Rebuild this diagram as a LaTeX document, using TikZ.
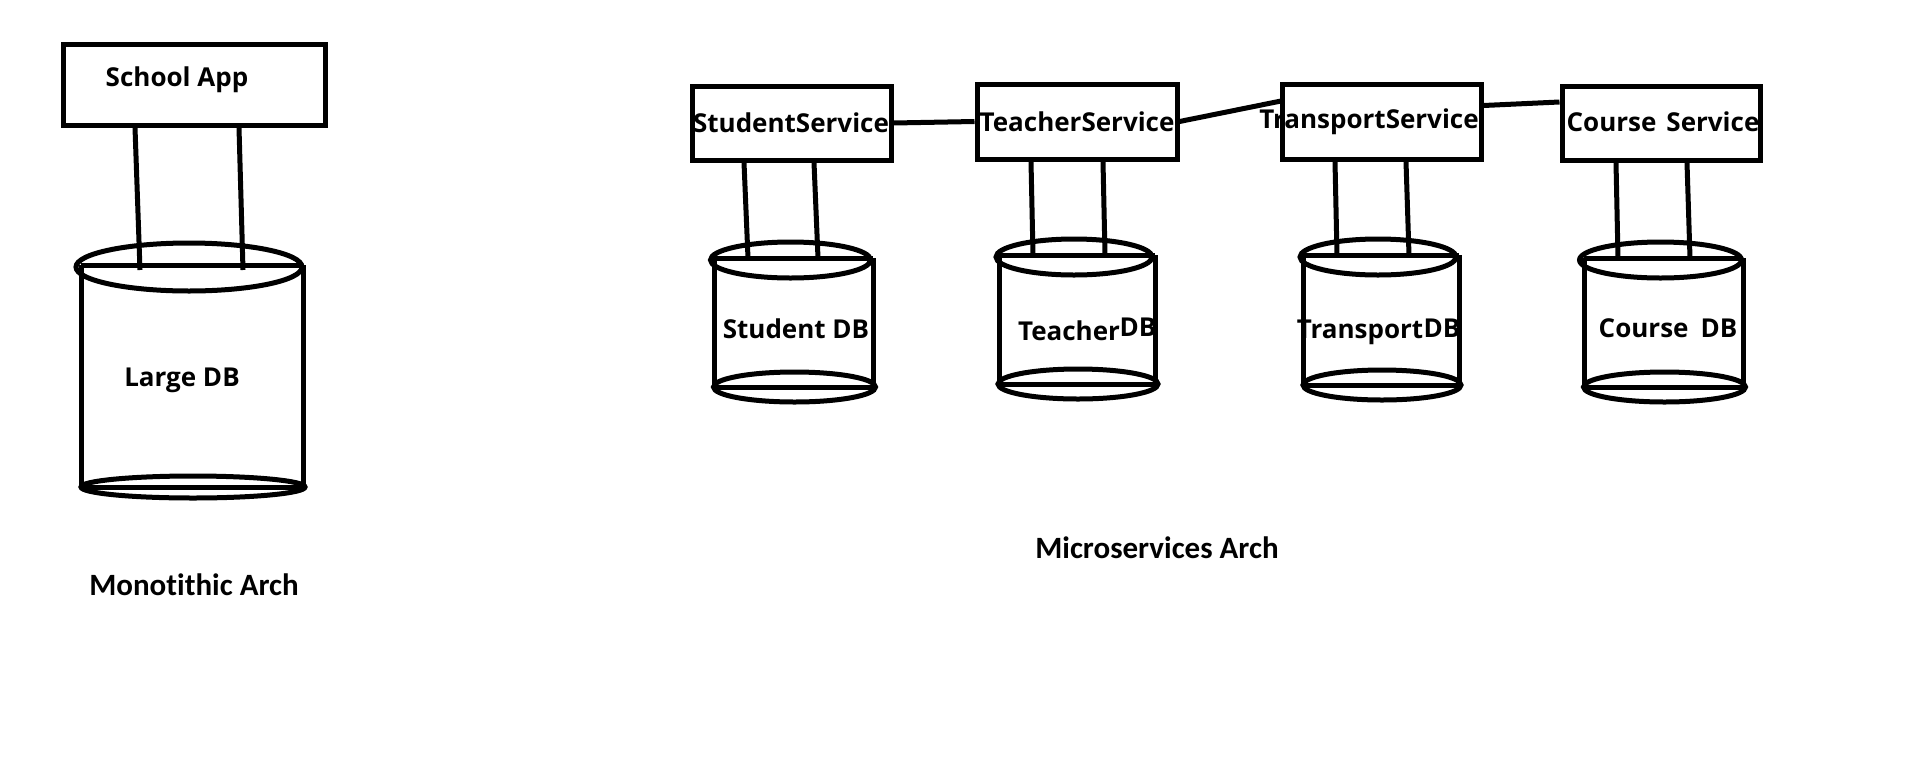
\documentclass[tikz,border=0pt]{standalone}
\usepackage{fontspec}
\setmainfont{Open Sans}
\newfontfamily\labelfont[Ligatures={NoCommon,NoDiscretionary}]{Carlito}
\usetikzlibrary{calc}
\newcommand\drawcyl[5]{%
  \draw (#1.north west) -- (#1.south west) (#1.north east) -- (#1.south east)
        (#1.north west) -- (#1.north east) (#1.south west) -- (#1.south east);
  \draw ($(#1.north)+(-3,2)$) ellipse [x radius=#2pt, y radius=#3pt];
  \draw ($(#1.south)+(1,0)$) ellipse [x radius=#4pt, y radius=#5pt];
}
\begin{document}
\begin{tikzpicture}[x=1pt,y=-1pt,line width=5pt,
  box/.style={draw, rectangle, inner sep=0pt},
  svc/.style={font=\bfseries\fontsize{26}{30}\selectfont, inner sep=0pt},
  lbl/.style={font=\labelfont\bfseries\fontsize{31}{36}\selectfont, inner sep=0pt},
  dbbody/.style={rectangle, inner sep=0pt, outer sep=0pt}]
\fill[white] (0,0) rectangle (1906,761);
\useasboundingbox (0,0) rectangle (1906,761);

% Monolithic
\node[box, minimum width=262pt, minimum height=81pt] (app) at (194,84.5) {};
\node[svc] (apptxt) at (177,80) {School App};
\node[dbbody, minimum width=222pt, minimum height=222pt] (ldb) at (192,376) {};
\drawcyl{ldb}{113}{24}{112}{11}
\node[svc] (ldbtxt) at (182,380) {Large DB};
\draw ($(app.south)+(-59,0)$) -- ($(ldb.north)+(-52,5)$);
\draw ($(app.south)+(45,0)$) -- ($(ldb.north)+(51,5)$);
\node[lbl] (mono) at (194,585) {Monotithic Arch};

% Services
\node[box, minimum width=199pt, minimum height=74pt] (stu) at (791.5,123) {};
\node[box, minimum width=200pt, minimum height=75pt] (tea) at (1077,121.5) {};
\node[box, minimum width=199pt, minimum height=75pt] (tra) at (1381.5,121.5) {};
\node[box, minimum width=198pt, minimum height=74pt] (cou) at (1661,123) {};
\node[svc] (stutxt) at (791,123) {StudentService};
\node[svc] (teatxt) at (1077,122) {TeacherService};
\node[svc] (tratxt) at (1369,122) {TransportService};
\node[svc] (coutxt) at (1663,122) {Course\hspace{10pt}Service};

\draw (stu.east) -- (tea.west);
\draw (tea.east) -- ($(tra.north west)+(4,19)$);
\draw ($(tra.east)+(0,-16)$) -- ($(cou.west)+(0,-21)$);

% Databases
\node[dbbody, minimum width=159pt, minimum height=129pt] (sdb) at (793.5,322.5) {};
\node[dbbody, minimum width=156pt, minimum height=129pt] (tdb) at (1077,319.5) {};
\node[dbbody, minimum width=156pt, minimum height=130pt] (trdb) at (1381,320) {};
\node[dbbody, minimum width=159pt, minimum height=129pt] (cdb) at (1663.5,322.5) {};
\drawcyl{sdb}{80}{18}{81}{15}
\drawcyl{tdb}{78}{18}{80}{15}
\drawcyl{trdb}{78}{18}{79}{15}
\drawcyl{cdb}{81}{18}{81}{15}

\draw ($(stu.south)+(-47.5,0)$) -- ($(sdb.north)+(-45.5,0)$);
\draw ($(stu.south)+(22.5,0)$) -- ($(sdb.north)+(24.5,0)$);
\draw ($(tea.south)+(-46,0)$) -- ($(tdb.north)+(-44,0)$);
\draw ($(tea.south)+(26,0)$) -- ($(tdb.north)+(28,0)$);
\draw ($(tra.south)+(-46.5,0)$) -- ($(trdb.north)+(-44,0)$);
\draw ($(tra.south)+(24.5,0)$) -- ($(trdb.north)+(28,0)$);
\draw ($(cou.south)+(-45,0)$) -- ($(cdb.north)+(-45.5,0)$);
\draw ($(cou.south)+(26,0)$) -- ($(cdb.north)+(26.5,0)$);

\node[svc] (sdbtxt) at (796,329) {Student DB};
\node[svc] (tdbtxt1) at (1069,331) {Teacher};
\node[svc] (tdbtxt2) at (1138,327) {DB};
\node[svc] (trdbtxt1) at (1360,332) {Transport};
\node[svc] (trdbtxt2) at (1442,328) {DB};
\node[svc] (cdbtxt) at (1668,328) {Course\hspace{12pt}DB};

\node[lbl] (micro) at (1157,548) {Microservices Arch};
\end{tikzpicture}
\end{document}
